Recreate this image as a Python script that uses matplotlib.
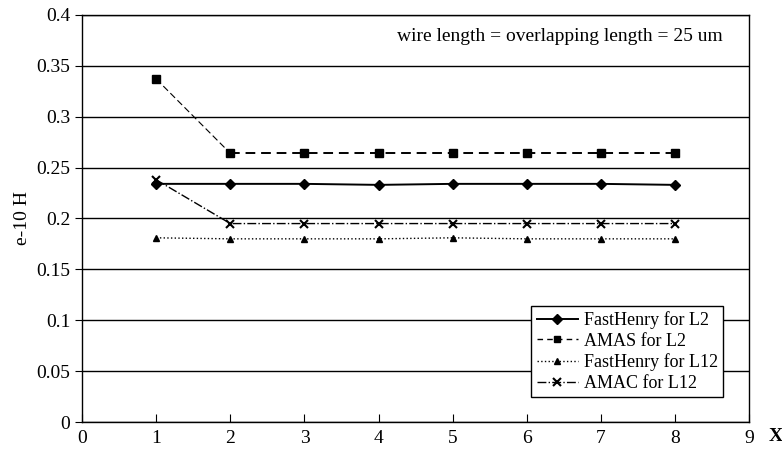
import matplotlib
matplotlib.use("Agg")
from matplotlib import pyplot as plt

plt.rcParams['font.family'] = ['Liberation Serif', 'DejaVu Serif']

x = [1, 2, 3, 4, 5, 6, 7, 8]
fh_l2 = [0.234, 0.234, 0.234, 0.233, 0.234, 0.234, 0.234, 0.233]
amas_l2 = [0.337, 0.264, 0.264, 0.264, 0.264, 0.264, 0.264, 0.264]
fh_l12 = [0.181, 0.180, 0.180, 0.180, 0.181, 0.180, 0.180, 0.180]
amac_l12 = [0.238, 0.195, 0.195, 0.195, 0.195, 0.195, 0.195, 0.195]

fig = plt.figure(figsize=(7.82, 4.5), dpi=100)
ax = fig.add_axes([0.105, 0.062, 0.853, 0.905])

# first segment of the AMAS curve is drawn thinner
ax.plot(x[:2], amas_l2[:2], color='black', lw=0.8, ls=(0, (6, 3)))
ax.plot(x[1:], amas_l2[1:], color='black', lw=1.4, ls=(0, (5, 3)))
ax.plot(x, amas_l2, ls='none', marker='s', ms=6, color='black')
ax.plot(x, fh_l2, color='black', lw=1.4, marker='D', ms=5)
ax.plot(x, fh_l12, color='black', lw=1.0, ls=':', marker='^', ms=5)
ax.plot(x, amac_l12, color='black', lw=1.0, ls='-.', marker='x', ms=6, mew=1.5)

# legend handles
h1, = ax.plot([], [], color='black', lw=1.4, marker='D', ms=5, label='FastHenry for L2')
h2, = ax.plot([], [], color='black', lw=1.0, ls=(0, (4, 3)), marker='s', ms=5, label='AMAS for L2')
h3, = ax.plot([], [], color='black', lw=1.0, ls=':', marker='^', ms=5, label='FastHenry for L12')
h4, = ax.plot([], [], color='black', lw=1.0, ls='-.', marker='x', ms=6, mew=1.5, label='AMAC for L12')
leg = ax.legend(handles=[h1, h2, h3, h4], loc='lower right', bbox_to_anchor=(0.961, 0.061),
                borderaxespad=0, fontsize=13, frameon=True, fancybox=False, edgecolor='black',
                handlelength=2.3, handletextpad=0.3, borderpad=0.3, labelspacing=0.2)
leg.get_frame().set_linewidth(1.0)
leg.get_frame().set_alpha(1)

ax.set_xlim(0, 9)
ax.set_ylim(0, 0.4)
ax.set_xticks(range(0, 10))
ax.set_yticks([0, 0.05, 0.1, 0.15, 0.2, 0.25, 0.3, 0.35, 0.4])
ax.set_yticklabels(['0', '0.05', '0.1', '0.15', '0.2', '0.25', '0.3', '0.35', '0.4'])
ax.yaxis.grid(True, color='black', lw=1.0)
ax.set_axisbelow(True)
ax.tick_params(axis='x', direction='in', length=6, labelsize=14, pad=6)
ax.tick_params(axis='y', direction='out', length=5, labelsize=14)
for s in ax.spines.values():
    s.set_linewidth(1.0)

ax.set_ylabel('e-10 H', fontsize=14)
ax.text(1.04, -0.035, 'X', transform=ax.transAxes, fontsize=14, fontweight='bold',
        ha='center', va='center')
ax.text(0.961, 0.946, 'wire length = overlapping length = 25 um', transform=ax.transAxes,
        fontsize=14, ha='right', va='center')

fig.savefig('out.png', dpi=100)
